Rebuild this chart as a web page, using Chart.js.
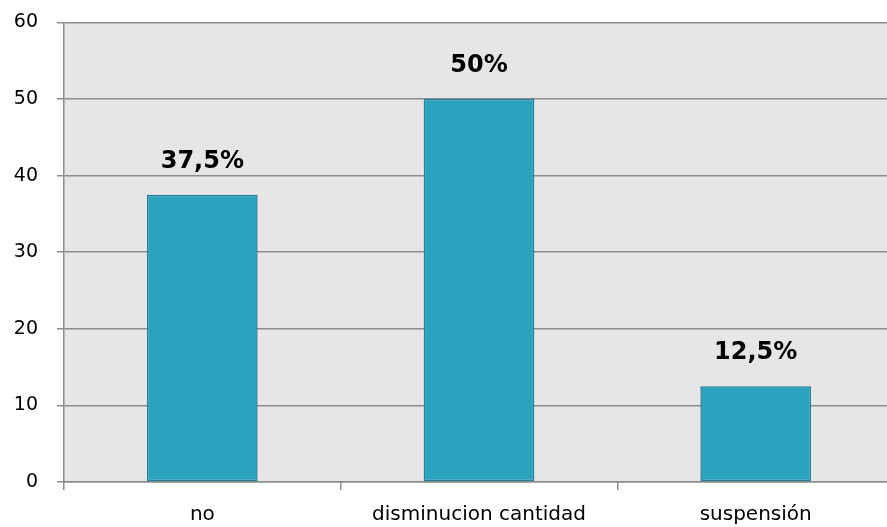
<!DOCTYPE html>
<html>
<head>
<meta charset="utf-8">
<script src="https://cdn.jsdelivr.net/npm/chart.js@4.4.0/dist/chart.umd.min.js"></script>
<style>
  html, body { margin: 0; padding: 0; background: #fff; overflow: hidden; }
  #wrap { width: 887px; height: 527px; overflow: hidden; }
  #mycanvas { display: block; margin-top: -8px; }
</style>
</head>
<body>
<div id="wrap"><canvas id="mycanvas" width="900" height="535"></canvas></div>
<script>
var categories = ['no', 'disminucion cantidad', 'suspensión'];
var values = [37.5, 50, 12.5];
var valueLabels = ['37,5%', '50%', '12,5%'];
var yTicks = [0, 10, 20, 30, 40, 50, 60];

var fontFamily = "'DejaVu Sans', sans-serif";

// gray plot background
var plotBackground = {
  id: 'plotBackground',
  beforeDraw: function(chart) {
    var a = chart.chartArea;
    var c = chart.ctx;
    c.save();
    c.fillStyle = '#e6e6e6';
    c.fillRect(a.left, a.top, a.right - a.left, a.bottom - a.top);
    c.restore();
  }
};

// percentage labels above bars
var barLabels = {
  id: 'barLabels',
  afterDatasetsDraw: function(chart) {
    var c = chart.ctx;
    var meta = chart.getDatasetMeta(0);
    c.save();
    c.fillStyle = '#000';
    c.font = "bold 24px " + fontFamily;
    c.textAlign = 'center';
    c.textBaseline = 'middle';
    meta.data.forEach(function(bar, i) {
      c.fillText(valueLabels[i], bar.x, bar.y - 33);
    });
    c.restore();
  }
};

var ctx = document.getElementById('mycanvas');

var barGraph = new Chart(ctx, {
  type: 'bar',
  data: {
    labels: categories,
    datasets: [{
      data: values,
      backgroundColor: '#2ba2be',
      borderColor: '#22809a',
      borderWidth: 1.5,
      borderSkipped: false,
      categoryPercentage: 0.8,
      barPercentage: 0.5
    }]
  },
  options: {
    responsive: false,
    animation: false,
    layout: { padding: { top: 14, right: 6, left: 0, bottom: 0 } },
    plugins: { legend: { display: false }, tooltip: { enabled: false } },
    scales: {
      x: {
        grid: {
          offset: true,
          drawOnChartArea: false,
          drawTicks: true,
          tickLength: 8,
          color: '#8c8c8c',
          lineWidth: 1.5
        },
        border: { color: '#8c8c8c', width: 1.5 },
        ticks: {
          color: '#000',
          padding: 13,
          font: { family: fontFamily, size: 20 }
        },
        afterFit: function(scale) { scale.height = 45; }
      },
      y: {
        min: 0,
        max: 60,
        afterBuildTicks: function(scale) {
          scale.ticks = yTicks.map(function(v) { return { value: v }; });
        },
        grid: {
          color: '#8c8c8c',
          lineWidth: 1.5,
          tickLength: 7
        },
        border: { color: '#8c8c8c', width: 1.5 },
        ticks: {
          color: '#000',
          padding: 19,
          font: { family: fontFamily, size: 19 }
        },
        afterFit: function(scale) { scale.width = 64; }
      }
    }
  },
  plugins: [plotBackground, barLabels]
});
</script>
</body>
</html>
